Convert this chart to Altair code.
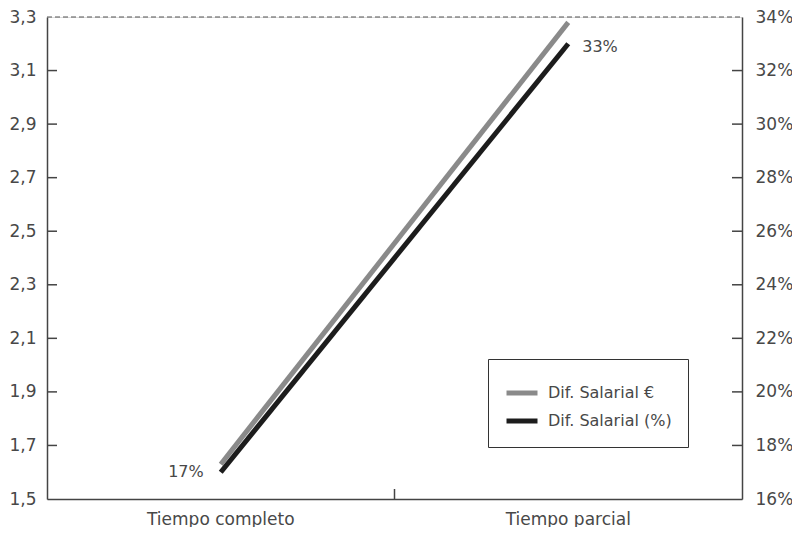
import altair as alt
import pandas as pd

categories = ["Tiempo completo", "Tiempo parcial"]
dif_eur = [1.63, 3.28]
dif_pct = [17, 33]
pct_labels = ["17%", "33%"]
series = ["Dif. Salarial €", "Dif. Salarial (%)"]
colors = ["#8a8a8a", "#1c1c1c"]
left_ticks = [1.5, 1.7, 1.9, 2.1, 2.3, 2.5, 2.7, 2.9, 3.1, 3.3]
right_ticks = [16, 18, 20, 22, 24, 26, 28, 30, 32, 34]

W, H = 695, 482
FONT = "DejaVu Sans"
TXT = "#484848"
AX = "#444444"

eur = pd.DataFrame({"cat": categories, "val": dif_eur, "serie": series[0]})
pct = pd.DataFrame({"cat": categories, "val": dif_pct, "serie": series[1], "lab": pct_labels})
lt = pd.DataFrame({"val": left_ticks[1:-1]})
rt = pd.DataFrame({"val": right_ticks[1:-1]})
top = pd.DataFrame({"val": [left_ticks[-1]]})
mid = pd.DataFrame({"cat": categories[1:]})

xscale = alt.Scale(type="band", domain=categories, paddingInner=0, paddingOuter=0)
xaxis = alt.Axis(title=None, labelAngle=0, ticks=False, domain=True, domainColor=AX,
                 domainWidth=1.5, labelPadding=12, labelFontSize=17, labelFont=FONT,
                 labelColor=TXT, grid=False)
x_enc = alt.X("cat:N", sort=categories, scale=xscale, axis=xaxis)

y_left = alt.Y("val:Q", scale=alt.Scale(domain=[1.5, 3.3], nice=False, zero=False),
               axis=alt.Axis(orient="left", title=None, values=left_ticks, ticks=False,
                             grid=False, domainColor=AX, domainWidth=1.5, labelPadding=11,
                             labelFontSize=17, labelFont=FONT, labelColor=TXT,
                             labelExpr="replace(format(datum.value, '.1f'), '.', ',')"))
y_right = alt.Y("val:Q", scale=alt.Scale(domain=[16, 34], nice=False, zero=False),
                axis=alt.Axis(orient="right", title=None, values=right_ticks, ticks=False,
                              grid=False, domainColor=AX, domainWidth=1.5, labelPadding=13,
                              labelFontSize=17, labelFont=FONT, labelColor=TXT,
                              labelExpr="datum.value + '%'"))

legend = alt.Legend(orient="none", legendX=441, legendY=342, title=None, symbolType="stroke",
                    symbolStrokeWidth=5, symbolSize=961, strokeColor="#333333", padding=16,
                    labelFontSize=16, labelFont=FONT, labelColor=TXT,
                    rowPadding=0, labelOffset=8, fillColor="white")
color = alt.Color("serie:N", scale=alt.Scale(domain=series, range=colors), legend=legend)

gray_line = alt.Chart(eur).mark_line(strokeWidth=5).encode(x=x_enc, y=y_left, color=color)
left_tk = alt.Chart(lt).mark_rule(color=AX, strokeWidth=1.5).encode(
    y=y_left, x=alt.value(0), x2=alt.value(10))
top_rule = alt.Chart(top).mark_rule(color="#555555", strokeWidth=1.2, strokeDash=[5, 3]).encode(
    y=y_left, x=alt.value(0), x2=alt.value(W))
mid_tk = alt.Chart(mid).mark_rule(color=AX, strokeWidth=1.5).encode(
    x=alt.X("cat:N", sort=categories, scale=xscale, axis=xaxis, bandPosition=0),
    y=alt.value(H - 10), y2=alt.value(H))

black_line = alt.Chart(pct).mark_line(strokeWidth=5).encode(x=x_enc, y=y_right, color=color)
right_tk = alt.Chart(rt).mark_rule(color=AX, strokeWidth=1.5).encode(
    y=y_right, x=alt.value(W - 10), x2=alt.value(W))
lab1 = alt.Chart(pct).transform_filter(alt.datum.cat == categories[0]).mark_text(
    align="right", baseline="middle", dx=-17, font=FONT, fontSize=16, color=TXT
).encode(x=x_enc, y=y_right, text="lab:N")
lab2 = alt.Chart(pct).transform_filter(alt.datum.cat == categories[1]).mark_text(
    align="left", baseline="middle", dx=14, dy=3, font=FONT, fontSize=16, color=TXT
).encode(x=x_enc, y=y_right, text="lab:N")

left = alt.layer(top_rule, left_tk, mid_tk, gray_line)
right = alt.layer(right_tk, black_line, lab1, lab2)

chart = alt.layer(left, right).resolve_scale(y="independent").properties(
    width=W, height=H,
    autosize=alt.AutoSizeParams(type="none"),
    padding={"left": 39, "top": 9, "right": 50, "bottom": 28},
).configure_view(stroke=None).configure(background="white")

chart.save("out.html", embed_options={"renderer": "svg", "actions": False})
